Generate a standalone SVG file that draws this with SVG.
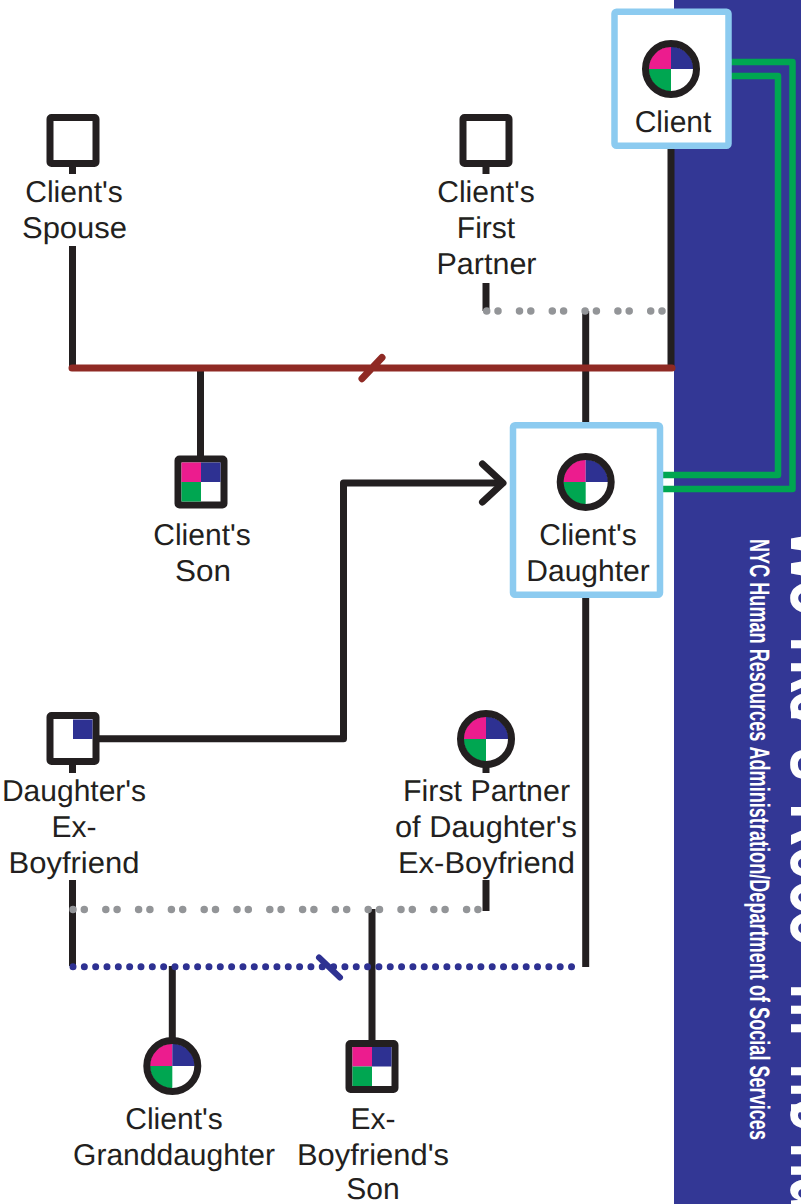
<svg xmlns="http://www.w3.org/2000/svg" width="801" height="1204" viewBox="0 0 801 1204">
<style>
text{font-family:"Liberation Sans",Arial,sans-serif;text-rendering:geometricPrecision;font-kerning:none}
.l{font-size:30px;fill:#231f20;text-anchor:middle}
.k{fill:none;stroke:#231f20;stroke-width:7;stroke-linejoin:round}
.g{fill:none;stroke:#00a651;stroke-width:6.5;stroke-linejoin:round}
.d{fill:none;stroke:#939598;stroke-width:7.5;stroke-linecap:round;stroke-dasharray:0 11.3 0 21.5}
.b{fill:none;stroke:#2e3192;stroke-width:7;stroke-linecap:round;stroke-dasharray:0 11.33}
.box{fill:#fff;stroke:#8ccbf0;stroke-width:6.5;stroke-linejoin:round}
.sq{fill:#fff;stroke:#231f20;stroke-width:7;stroke-linejoin:round}
.ci{fill:none;stroke:#231f20;stroke-width:7}
.p{fill:#ec1c8e}.n{fill:#2e3192}.e{fill:#00a651}
</style>
<defs>
<g id="qc"><circle r="22.5" fill="#fff"/><path class="p" d="M0 0V-22.5A22.5 22.5 0 0 0-22.5 0Z"/><path class="n" d="M0 0V-22.5A22.5 22.5 0 0 1 22.5 0Z"/><path class="e" d="M0 0V22.5A22.5 22.5 0 0 1-22.5 0Z"/><circle class="ci" r="25.5"/></g>
<g id="qs"><rect class="sq" x="-23" y="-23" width="46" height="46" rx="1.5"/><rect class="p" x="-19.5" y="-19.5" width="19.5" height="19.5"/><rect class="n" x="0" y="-19.5" width="19.5" height="19.5"/><rect class="e" x="-19.5" y="0" width="19.5" height="19.5"/></g>
</defs>
<rect id="panel" x="674" y="0" width="127" height="1204" fill="#333795"/>
<g id="panel-text" fill="#fff">
<text transform="translate(750 539) rotate(90)" font-size="28" font-weight="700" textLength="601" lengthAdjust="spacingAndGlyphs">NYC Human Resources Administration/Department of Social Services</text>
<text transform="translate(790.5 0) rotate(90) scale(.7 1)" font-size="85" font-weight="700" x="754.3 828.6 908.6 941.4 985.7 1008.6 1050 1068.6 1121.4 1147.1 1208.6 1257.1 1300 1404.3 1518.6 1568.6 1631.4 1680 1735.7">Worker's Recommendations</text>
</g>
<g id="connectors">
<path class="g" d="M728 62H792.5V489H660"/>
<path class="g" d="M728 76H778V475H660"/>
<path class="k" d="M671 146V368"/>
<path class="k" d="M72.5 246V368"/>
<path class="k" d="M486 283V311"/>
<path class="k" d="M585.7 311V428"/>
<path class="k" d="M200.5 368V460"/>
<path class="k" d="M585.7 595V967"/>
<path class="k" d="M96 738.7H343.5V483H503"/>
<path class="k" d="M482.5 464L503 483L482.5 502" stroke-linecap="round"/>
<path class="k" d="M72.5 880V966"/>
<path class="k" d="M486 880V911"/>
<path class="k" d="M372 909V1045"/>
<path class="k" d="M172.3 966V1042"/>
<path class="k" d="M72.5 165V174M486 165V174M72.5 763V773M486 765V773"/>
<path d="M72 368H672M362 378.7L382 357.5" fill="none" stroke="#8f2a24" stroke-width="7" stroke-linecap="round"/>
<path class="d" d="M486.7 311H666"/>
<path class="d" d="M73 909.5H482"/>
<path class="b" d="M73 966.7H580"/>
<path d="M319 957.5L340 977.5" fill="none" stroke="#2e3192" stroke-width="6" stroke-linecap="round"/>
</g>
<g id="client"><rect class="box" x="614.5" y="11.8" width="114" height="134" rx="2"/><use href="#qc" x="671" y="69"/><text class="l" x="673" y="132">Client</text></g>
<g id="spouse"><rect class="sq" x="50" y="117.5" width="46" height="46" rx="1.5"/><text class="l" x="74" y="202">Client's</text><text class="l" x="74.500" y="238" textLength="105" lengthAdjust="spacingAndGlyphs">Spouse</text></g>
<g id="first-partner"><rect class="sq" x="463" y="117.5" width="46" height="46" rx="1.5"/><text class="l" x="486" y="202">Client's</text><text class="l" x="486" y="238">First</text><text class="l" x="486.500" y="274" textLength="100" lengthAdjust="spacingAndGlyphs">Partner</text></g>
<g id="son"><use href="#qs" x="201" y="482"/><text class="l" x="202" y="545">Client's</text><text class="l" x="203" y="581" textLength="56" lengthAdjust="spacingAndGlyphs">Son</text></g>
<g id="daughter"><rect class="box" x="513" y="425.3" width="147" height="169.4" rx="2"/><use href="#qc" x="585.7" y="482"/><text class="l" x="588" y="545">Client's</text><text class="l" x="588" y="581">Daughter</text></g>
<g id="ex-boyfriend"><rect class="sq" x="50" y="715.5" width="46" height="46" rx="1.5"/><rect class="n" x="73" y="719.5" width="19.5" height="19.5"/><text class="l" x="74" y="801">Daughter's</text><text class="l" x="74" y="837">Ex-</text><text class="l" x="74" y="873" textLength="131" lengthAdjust="spacingAndGlyphs">Boyfriend</text></g>
<g id="first-partner-ex"><use href="#qc" x="486" y="739"/><text class="l" x="486.500" y="801" textLength="167" lengthAdjust="spacingAndGlyphs">First Partner</text><text class="l" x="486" y="837" textLength="182" lengthAdjust="spacingAndGlyphs">of Daughter's</text><text class="l" x="486.500" y="873" textLength="177" lengthAdjust="spacingAndGlyphs">Ex-Boyfriend</text></g>
<g id="granddaughter"><use href="#qc" x="172.3" y="1066"/><text class="l" x="174" y="1129">Client's</text><text class="l" x="174" y="1165">Granddaughter</text></g>
<g id="ex-son"><use href="#qs" x="372" y="1066.5"/><text class="l" x="373" y="1129">Ex-</text><text class="l" x="373" y="1165" textLength="152" lengthAdjust="spacingAndGlyphs">Boyfriend's</text><text class="l" x="373" y="1199">Son</text></g>
</svg>
